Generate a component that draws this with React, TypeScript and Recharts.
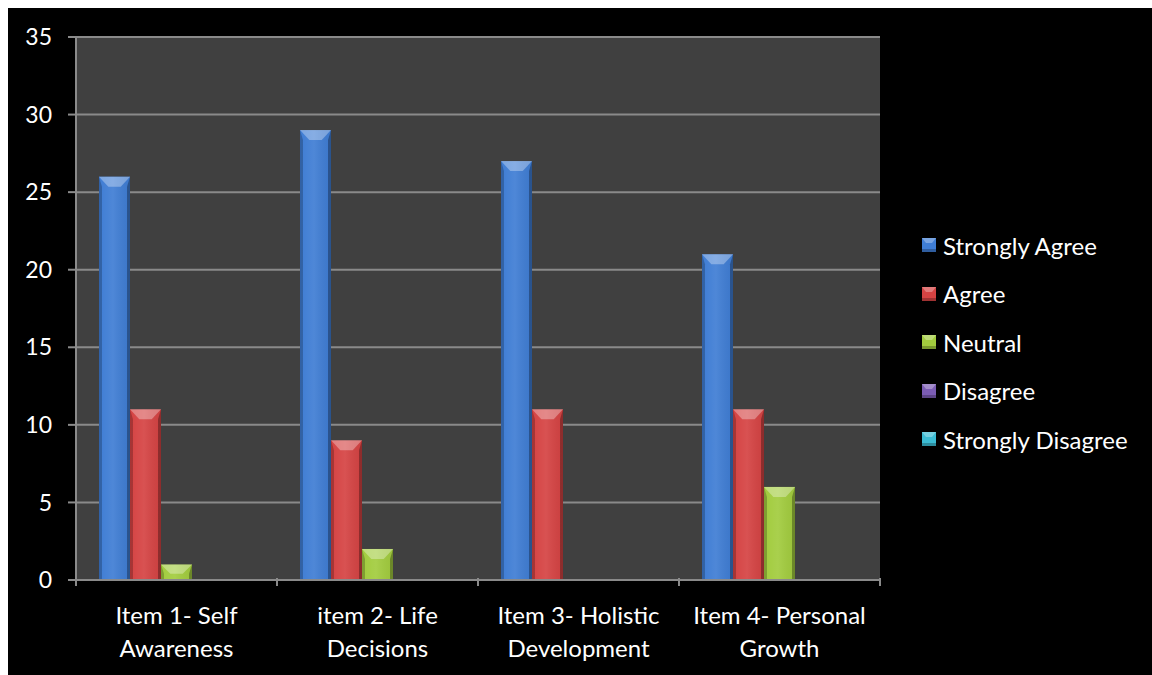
import React from 'react';
import { BarChart, Bar, XAxis, YAxis, CartesianGrid, Legend } from 'recharts';

// Survey responses per item
const categories = ['Item 1- Self Awareness', 'item 2- Life Decisions', 'Item 3- Holistic Development', 'Item 4- Personal Growth'];
const categoryLines = [
  ['Item 1- Self', 'Awareness'],
  ['item 2- Life', 'Decisions'],
  ['Item 3- Holistic', 'Development'],
  ['Item 4- Personal', 'Growth'],
];
const stronglyAgree = [26, 29, 27, 21];
const agree = [11, 9, 11, 11];
const neutral = [1, 2, 0, 6];
const disagree = [0, 0, 0, 0];
const stronglyDisagree = [0, 0, 0, 0];
const yTicks = [0, 5, 10, 15, 20, 25, 30, 35];

const seriesNames = ['Strongly Agree', 'Agree', 'Neutral', 'Disagree', 'Strongly Disagree'];
const seriesKeys = ['sa', 'a', 'n', 'd', 'sd'];
const seriesColors = ['#3f7dd4', '#d54343', '#a2cc3e', '#7b5cb4', '#3cbcd4'];

const data = categories.map((name, i) => ({
  name,
  sa: stronglyAgree[i],
  a: agree[i],
  n: neutral[i],
  d: disagree[i],
  sd: stronglyDisagree[i],
}));

const FONT = 'Lato, "Open Sans", sans-serif';

// bar with a bevelled edge: light top face, darker sides
const BevelBar = (props: any) => {
  const { x, y, width, height, fill } = props;
  if (!height || height <= 0) return null;
  const b = Math.min(3, width / 6, height / 3);
  const t = Math.min(10, height * 0.6);
  const inset = width * 0.3;
  return (
    <g>
      <rect x={x} y={y} width={width} height={height} fill={fill} />
      <rect x={x} y={y} width={width} height={height} fill="url(#barShine)" />
      <polygon points={`${x},${y} ${x + b},${y + t} ${x + b},${y + height} ${x},${y + height}`} fill="#000" fillOpacity={0.22} />
      <polygon points={`${x + width},${y} ${x + width - b},${y + t} ${x + width - b},${y + height} ${x + width},${y + height}`} fill="#000" fillOpacity={0.3} />
      <polygon points={`${x},${y} ${x + width},${y} ${x + width - inset},${y + t} ${x + inset},${y + t}`} fill="#fff" fillOpacity={0.32} />
    </g>
  );
};

const XTick = (props: any) => {
  const { x, y, payload, index } = props;
  const half = payload.offset || 100.5;
  const axisY = y - 10;
  const lines = categoryLines[index] || [payload.value];
  return (
    <g>
      <line x1={x - half} x2={x - half} y1={axisY} y2={axisY + 8} stroke="#8a8a8a" strokeWidth={2} />
      {index === categories.length - 1 && (
        <line x1={x + half} x2={x + half} y1={axisY} y2={axisY + 8} stroke="#8a8a8a" strokeWidth={2} />
      )}
      <text x={x} y={axisY} textAnchor="middle" fill="#fff" fontSize={24} fontFamily={FONT}>
        {lines.map((l: string, i: number) => (
          <tspan key={i} x={x} dy={i === 0 ? 46 : 33}>{l}</tspan>
        ))}
      </text>
    </g>
  );
};

const LegendContent = () => (
  <div style={{ fontFamily: FONT, fontSize: 24, color: '#fff' }}>
    {seriesNames.map((name, i) => (
      <div key={name} style={{ height: 48.5, display: 'flex', alignItems: 'center' }}>
        <svg width={14} height={14} style={{ marginRight: 7 }}>
          <rect x={0} y={0} width={14} height={14} fill={seriesColors[i]} />
          <polygon points="0,0 14,0 10,5 4,5" fill="#fff" fillOpacity={0.3} />
          <rect x={0} y={11} width={14} height={3} fill="#000" fillOpacity={0.25} />
        </svg>
        <span>{name}</span>
      </div>
    ))}
  </div>
);

export default function App() {
  return (
    <div style={{ position: 'fixed', left: 8, top: 8, width: 1160, height: 680, overflow: 'hidden', background: '#000' }}>
      <BarChart
        width={1144}
        height={667}
        data={data}
        margin={{ top: 29, right: 272, bottom: 0, left: 0 }}
        barCategoryGap={23}
        barGap={0}
      >
        <defs>
          <linearGradient id="barShine" x1="0" y1="0" x2="1" y2="0">
            <stop offset="0" stopColor="#fff" stopOpacity={0} />
            <stop offset="0.45" stopColor="#fff" stopOpacity={0.08} />
            <stop offset="1" stopColor="#000" stopOpacity={0.05} />
          </linearGradient>
        </defs>
        <CartesianGrid vertical={false} stroke="#8a8a8a" strokeWidth={2} fill="#404040" />
        <XAxis
          dataKey="name"
          axisLine={{ stroke: '#8a8a8a', strokeWidth: 2 }}
          tickLine={false}
          tick={<XTick />}
          interval={0}
          height={95}
        />
        <YAxis
          domain={[0, 35]}
          ticks={yTicks}
          width={68}
          axisLine={{ stroke: '#8a8a8a', strokeWidth: 2 }}
          tickLine={{ stroke: '#8a8a8a', strokeWidth: 2 }}
          tickSize={8}
          tickMargin={16}
          tick={{ fill: '#fff', fontSize: 23, fontFamily: FONT }}
        />
        <Legend
          layout="vertical"
          align="center"
          verticalAlign="middle"
          content={<LegendContent />}
          wrapperStyle={{ left: 914, top: 213, width: 230 }}
        />
        {seriesKeys.map((k, i) => (
          <Bar key={k} dataKey={k} name={seriesNames[i]} fill={seriesColors[i]} shape={<BevelBar />} isAnimationActive={false} />
        ))}
      </BarChart>
    </div>
  );
}
